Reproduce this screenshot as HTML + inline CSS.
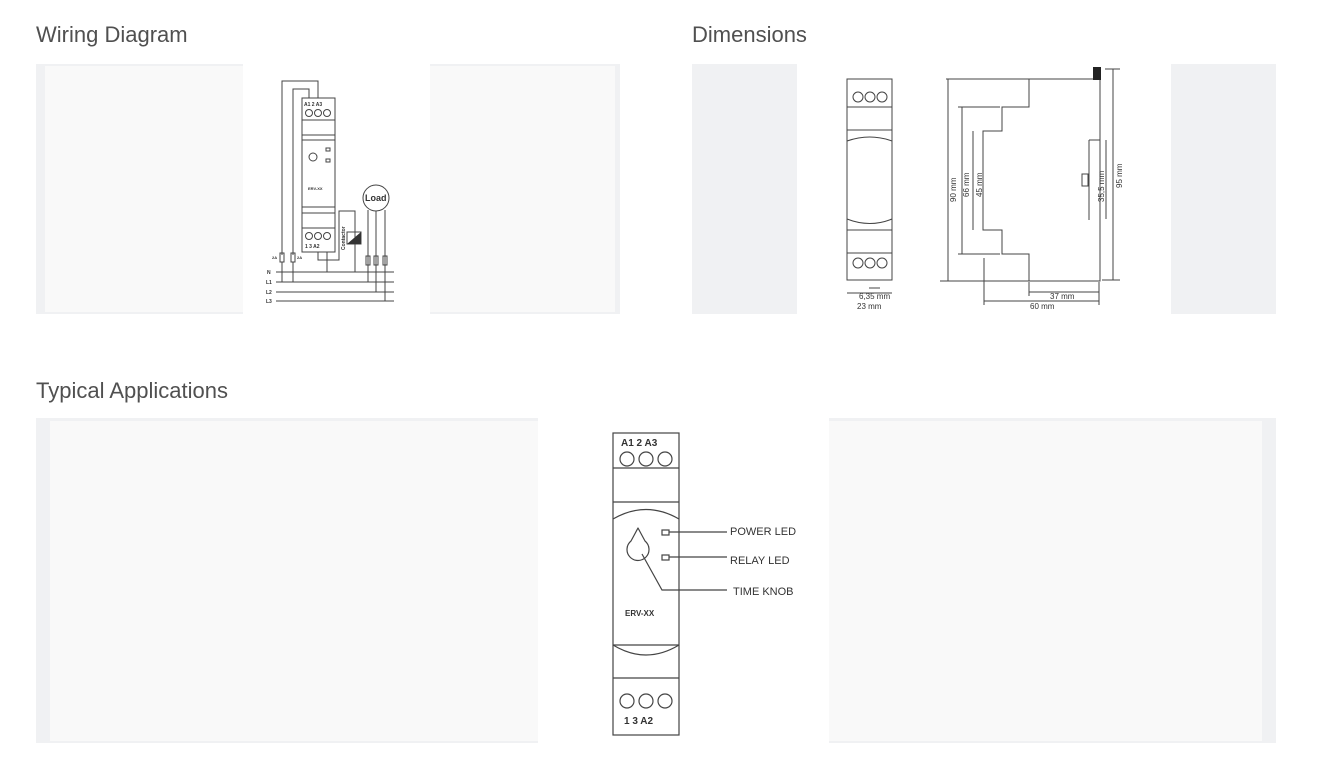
<!DOCTYPE html>
<html><head><meta charset="utf-8"><style>
body{margin:0;background:#fff;width:1320px;height:771px;overflow:hidden;font-family:"Liberation Sans",sans-serif}
.h{position:absolute;font-size:22px;color:#505050;letter-spacing:0}
</style></head><body>
<div class="h" style="left:36px;top:22px">Wiring Diagram</div>
<div class="h" style="left:692px;top:22px">Dimensions</div>
<div class="h" style="left:36px;top:378px">Typical Applications</div>
<svg width="1320" height="771" style="position:absolute;left:0;top:0" font-family="Liberation Sans, sans-serif">
<rect x="36" y="64" width="584" height="250" fill="#f0f1f3"/>
<rect x="45" y="66" width="570" height="246" fill="#f9f9f9"/>
<rect x="243" y="64" width="187" height="250" fill="#fff"/>
<rect x="692" y="64" width="584" height="250" fill="#f0f1f3"/>
<rect x="797" y="64" width="374" height="250" fill="#fff"/>
<rect x="36" y="418" width="1240" height="325" fill="#f0f1f3"/>
<rect x="50" y="421" width="1212" height="320" fill="#f9f9f9"/>
<rect x="538" y="418" width="291" height="325" fill="#fff"/>

<g stroke="#444" fill="none" stroke-width="1">
<rect x="302" y="98" width="33" height="154"/>
<line x1="302" y1="120" x2="335" y2="120"/><line x1="302" y1="135" x2="335" y2="135"/><line x1="302" y1="140" x2="335" y2="140"/>
<line x1="302" y1="207" x2="335" y2="207"/><line x1="302" y1="213" x2="335" y2="213"/><line x1="302" y1="228" x2="335" y2="228"/>
<circle cx="309" cy="113" r="3.5"/><circle cx="318" cy="113" r="3.5"/><circle cx="327" cy="113" r="3.5"/>
<circle cx="309" cy="236" r="3.5"/><circle cx="318" cy="236" r="3.5"/><circle cx="327" cy="236" r="3.5"/>
<circle cx="313" cy="157" r="4"/>
<rect x="326" y="148" width="4" height="3"/><rect x="326" y="159" width="4" height="3"/>
<polyline points="282,255 282,81 318,81 318,98"/>
<polyline points="293,255 293,89 309,89 309,98"/>
<polyline points="318,252 318,260 339,260 339,211 355,211 355,272"/>
<polyline points="327,252 327,272"/>
<circle cx="376" cy="198" r="13"/>
<line x1="368" y1="210" x2="368" y2="282"/><line x1="376" y1="211" x2="376" y2="292"/><line x1="385" y1="210" x2="385" y2="301"/>
<rect x="366" y="256" width="4" height="9"/><rect x="374" y="256" width="4" height="9"/><rect x="383" y="256" width="4" height="9"/>
<rect x="280" y="253" width="4" height="9"/><rect x="291" y="253" width="4" height="9"/>
<rect x="347" y="232" width="14" height="12"/>
<line x1="276" y1="272" x2="394" y2="272"/><line x1="276" y1="282" x2="394" y2="282"/><line x1="276" y1="292" x2="394" y2="292"/><line x1="276" y1="301" x2="394" y2="301"/>
<line x1="282" y1="262" x2="282" y2="282"/><line x1="293" y1="262" x2="293" y2="282"/>
</g>
<polygon points="347,244 361,232 361,244" fill="#333"/>
<g fill="#333" font-size="5" font-weight="bold">
<text x="304" y="106">A1 2 A3</text><text x="305" y="248">1 3 A2</text>
<text x="308" y="190" font-size="4">ERV-XX</text>
<text x="267" y="274">N</text><text x="266" y="284">L1</text><text x="266" y="294">L2</text><text x="266" y="303">L3</text>
<text x="272" y="259" font-size="4">2A</text><text x="297" y="259" font-size="4">2A</text>
<text x="365" y="201" font-size="9">Load</text>
<text transform="translate(345,250) rotate(-90)" font-size="5">Contactor</text>
</g>

<g stroke="#444" fill="none" stroke-width="1">
<rect x="847" y="79" width="45" height="201"/>
<line x1="847" y1="107" x2="892" y2="107"/><line x1="847" y1="130" x2="892" y2="130"/>
<line x1="847" y1="230" x2="892" y2="230"/><line x1="847" y1="253" x2="892" y2="253"/>
<path d="M847,141 Q870,133 892,141"/><path d="M847,219 Q870,228 892,219"/>
<circle cx="858" cy="97" r="5"/><circle cx="870" cy="97" r="5"/><circle cx="882" cy="97" r="5"/>
<circle cx="858" cy="263" r="5"/><circle cx="870" cy="263" r="5"/><circle cx="882" cy="263" r="5"/>
<line x1="847" y1="293" x2="892" y2="293"/><line x1="869" y1="288" x2="880" y2="288"/>
<path d="M946,79 L1029,79 L1029,107 L1002,107 L1002,131 L983,131 L983,230 L1002,230 L1002,254 L1029,254 L1029,281 L1100,281 L1100,79 L1029,79"/>
<line x1="1089" y1="140" x2="1100" y2="140"/><line x1="1089" y1="140" x2="1089" y2="220"/>
<rect x="1082" y="174" width="6" height="12"/>
<line x1="948" y1="79" x2="948" y2="281"/><line x1="940" y1="281" x2="1029" y2="281"/>
<line x1="962" y1="107" x2="962" y2="254"/><line x1="958" y1="107" x2="1000" y2="107"/><line x1="958" y1="254" x2="1000" y2="254"/>
<line x1="973" y1="131" x2="973" y2="230"/>
<line x1="1113" y1="69" x2="1113" y2="280"/><line x1="1105" y1="69" x2="1120" y2="69"/><line x1="1102" y1="280" x2="1120" y2="280"/>
<line x1="1106" y1="140" x2="1106" y2="219"/>
<line x1="1029" y1="292" x2="1099" y2="292"/><line x1="984" y1="301" x2="1099" y2="301"/>
<line x1="984" y1="258" x2="984" y2="305"/><line x1="1099" y1="282" x2="1099" y2="305"/><line x1="1029" y1="282" x2="1029" y2="296"/>
</g>
<rect x="1093" y="67" width="8" height="13" fill="#222"/>
<g fill="#333" font-size="8">
<text x="859" y="299">6,35 mm</text><text x="857" y="309">23 mm</text>
<text x="1050" y="299">37 mm</text><text x="1030" y="309">60 mm</text>
<text transform="translate(956,202) rotate(-90)">90 mm</text>
<text transform="translate(969,197) rotate(-90)">66 mm</text>
<text transform="translate(982,197) rotate(-90)">45 mm</text>
<text transform="translate(1104,202) rotate(-90)">35,5 mm</text>
<text transform="translate(1122,188) rotate(-90)">95 mm</text>
</g>

<g stroke="#444" fill="none" stroke-width="1.2">
<rect x="613" y="433" width="66" height="302"/>
<line x1="613" y1="468" x2="679" y2="468"/><line x1="613" y1="502" x2="679" y2="502"/>
<line x1="613" y1="645" x2="679" y2="645"/><line x1="613" y1="678" x2="679" y2="678"/>
<path d="M613,519 Q646,500 679,519"/><path d="M613,645 Q646,665 679,645"/>
<circle cx="627" cy="459" r="7"/><circle cx="646" cy="459" r="7"/><circle cx="665" cy="459" r="7"/>
<circle cx="627" cy="701" r="7"/><circle cx="646" cy="701" r="7"/><circle cx="665" cy="701" r="7"/>
<path d="M638,528 L645,541 A11,11 0 1 1 631,541 Z" stroke-linejoin="round"/>
<rect x="662" y="530" width="7" height="5"/><rect x="662" y="555" width="7" height="5"/>
<line x1="669" y1="532" x2="727" y2="532"/><line x1="669" y1="557" x2="727" y2="557"/>
<polyline points="642,554 662,590 727,590"/>
</g>
<g fill="#333" font-weight="bold" font-size="10">
<text x="621" y="446">A1 2 A3</text><text x="624" y="724">1 3 A2</text>
<text x="625" y="616" font-size="8">ERV-XX</text>
</g>
<g fill="#333" font-size="11">
<text x="730" y="535">POWER LED</text><text x="730" y="564">RELAY LED</text><text x="733" y="595">TIME KNOB</text>
</g>
</svg>
</body></html>
